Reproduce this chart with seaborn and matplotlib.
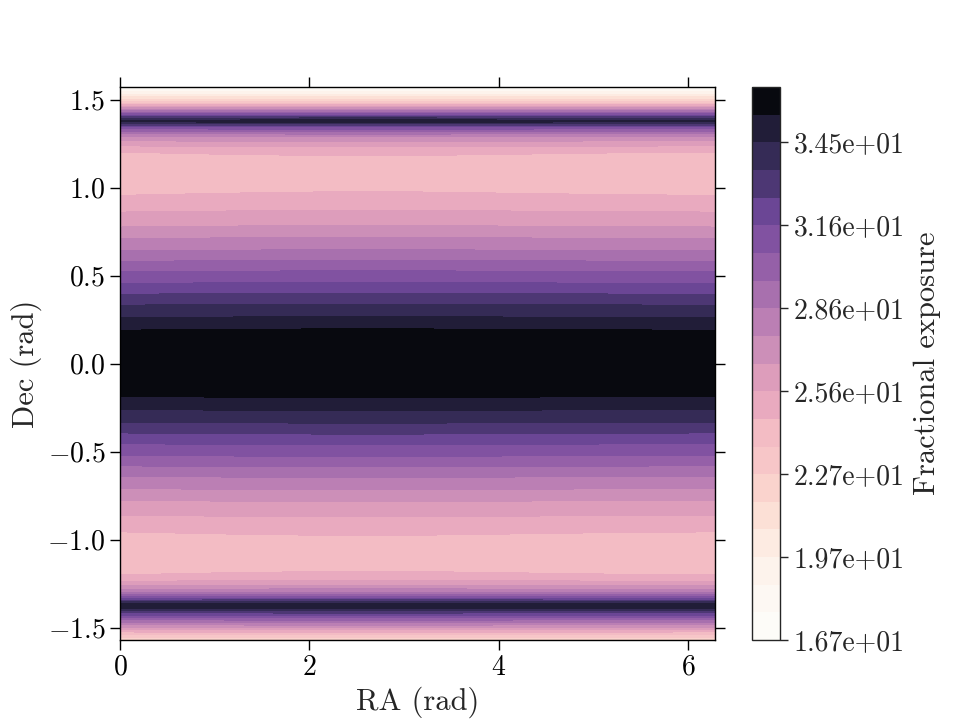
import numpy as np
import matplotlib
matplotlib.use("Agg")
import matplotlib.pyplot as plt
import seaborn as sns

# Declination nodes (rad) and exposure
dec = [-1.5708, -1.54, -1.50, -1.45, -1.41, -1.385, -1.372, -1.355, -1.335,
       -1.30, -1.25, -1.20, -1.08, -0.956, -0.861, -0.776, -0.710, -0.640,
       -0.581, -0.521, -0.455, -0.394, -0.332, -0.260, -0.186, -0.12, 0.0,
       0.12, 0.190, 0.260, 0.332, 0.394, 0.455, 0.521, 0.581, 0.640, 0.710,
       0.776, 0.861, 0.956, 1.08, 1.201, 1.25, 1.29, 1.32, 1.345, 1.362,
       1.378, 1.395, 1.42, 1.45, 1.48, 1.51, 1.54, 1.5708]
exposure = [21.9, 23.5, 26.5, 30.0, 33.0, 34.8, 35.1, 34.0, 31.5,
            28.5, 26.0, 24.64, 24.0, 24.64, 25.63, 26.62, 27.61, 28.60,
            29.59, 30.58, 31.57, 32.56, 33.55, 34.54, 35.53, 36.2, 36.52,
            36.2, 35.53, 34.54, 33.55, 32.56, 31.57, 30.58, 29.59, 28.60, 27.61,
            26.62, 25.63, 24.64, 24.0, 24.64, 26.0, 27.6, 29.5, 31.5, 33.5,
            35.0, 33.5, 30.5, 27.0, 23.5, 21.0, 19.0, 16.72]

# slight variation along right ascension
ra = [0.0, 1.05, 2.09, 3.14, 4.19, 5.24, 6.2832]
ra_offset = [0.0, 0.06, 0.1, 0.1, 0.06, 0.02, 0.0]

# colours of the 20 bands, light to dark
band_colors = ["#fdfcf8", "#fdf8f3", "#fdf3ec", "#fdebe2", "#fce0d6",
               "#fad3cd", "#f7c6c8", "#f3bcc4", "#e9aabf", "#dd9dbb",
               "#cc8fb8", "#bb7fb4", "#a870ae", "#9560a8", "#8152a1",
               "#6b4695", "#4d3774", "#352b56", "#211d38", "#08090f"]

sns.set_style("ticks")
plt.rcParams["font.family"] = ["cmr10", "DejaVu Serif"]
plt.rcParams["mathtext.fontset"] = "cm"
plt.rcParams["axes.formatter.use_mathtext"] = True
plt.rcParams["axes.unicode_minus"] = True

Z = np.add.outer(np.array(exposure), np.array(ra_offset))
Z = np.clip(Z, 16.72, 36.52)

levels = np.linspace(16.72, 36.52, 21)
palette = sns.color_palette(band_colors)

fig = plt.figure(figsize=(9.6, 7.2), dpi=100)
ax = fig.add_axes([0.125, 0.111, 0.620, 0.768])
cax = fig.add_axes([0.783, 0.111, 0.030, 0.768])

cs = ax.contourf(ra, dec, Z, levels=levels, colors=palette)
ax.set_xlim(0, 2 * np.pi)
ax.set_ylim(-np.pi / 2, np.pi / 2)
ax.set_xticks([0, 2, 4, 6])
ax.set_yticks([-1.5, -1.0, -0.5, 0.0, 0.5, 1.0, 1.5])
ax.tick_params(direction="out", top=True, right=True, length=7, width=1,
               labelsize=20, colors="black")
ax.set_xlabel("RA (rad)", fontsize=22)
ax.set_ylabel("Dec (rad)", fontsize=22)
for s in ax.spines.values():
    s.set_linewidth(1)
    s.set_color("black")

cb = fig.colorbar(cs, cax=cax, ticks=levels[::3], format="%.2e")
cb.ax.tick_params(direction="out", length=6, width=1, labelsize=20)
cb.set_label("Fractional exposure", fontsize=22, labelpad=6)
cb.outline.set_linewidth(1)

fig.savefig("out.png", dpi=100)
